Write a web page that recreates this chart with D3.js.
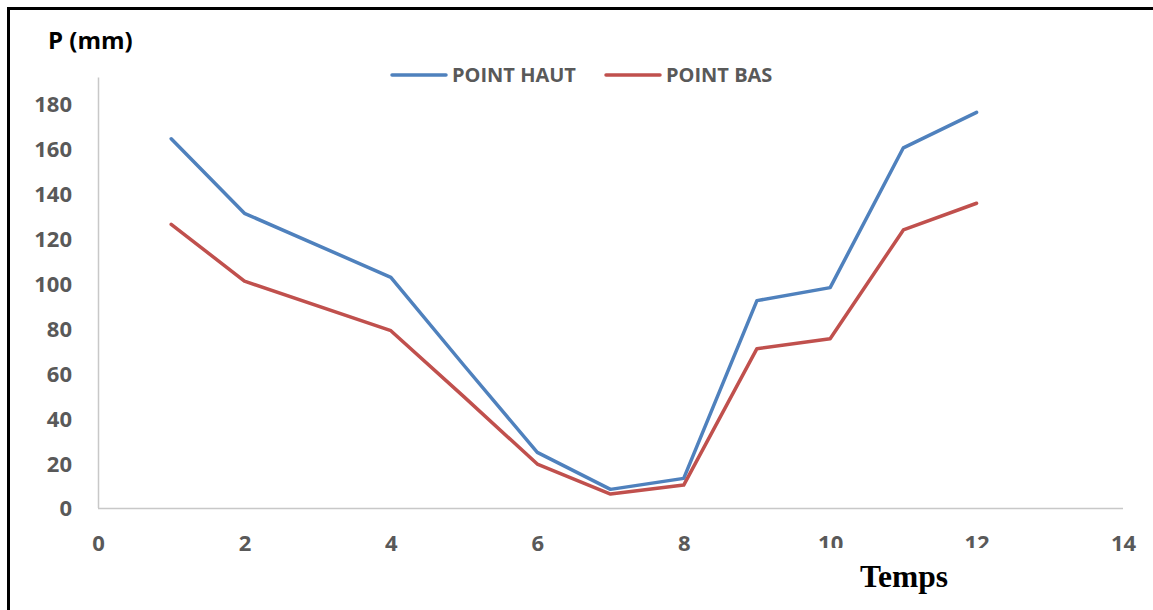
<!DOCTYPE html>
<html>
<head>
<meta charset="utf-8">
<script src="https://cdn.jsdelivr.net/npm/d3@7/dist/d3.min.js"></script>
<style>
  html, body { margin: 0; padding: 0; background: #fff; }
  svg { display: block; }
  .tick-label { font-family: "Open Sans", sans-serif; font-weight: 700; font-size: 22px; fill: #595959; }
  .legend-label { font-family: "Open Sans", sans-serif; font-weight: 700; font-size: 20px; fill: #595959; }
</style>
</head>
<body>
<svg id="chart" width="1153" height="610"></svg>
<script>
// Time steps and pressure readings (mm) for the two measuring points
const temps = [1, 2, 4, 5, 6, 7, 8, 9, 10, 11, 12];
const pointHaut = [164.5, 131.3, 102.8, 63.5, 24.8, 8.3, 13.2, 92.4, 98.2, 160.5, 176.3];
const pointBas  = [126.4, 101.1, 79.0, 49.5, 19.6, 6.2, 10.2, 71.0, 75.4, 123.9, 135.8];

const seriesNames = ["POINT HAUT", "POINT BAS"];
const seriesColors = ["#4f81bd", "#c0504d"];

const xTicks = [0, 2, 4, 6, 8, 10, 12, 14];
const yTicks = [0, 20, 40, 60, 80, 100, 120, 140, 160, 180];

const svg = d3.select("#chart");

const x = d3.scaleLinear().domain([0, 14]).range([98, 1123]);
const y = d3.scaleLinear().domain([0, 190]).range([508, 81.6]);

// Outer frame (left and top edges)
svg.append("path")
  .attr("d", "M8.5,610 L8.5,8.5 L1153,8.5")
  .attr("fill", "none")
  .attr("stroke", "#000")
  .attr("stroke-width", 3);

// Axes
const xAxis = d3.axisBottom(x).tickValues(xTicks).tickSize(0).tickPadding(27).tickFormat(d3.format("d"));
const yAxis = d3.axisLeft(y).tickValues(yTicks).tickSize(0).tickPadding(26).tickFormat(d3.format("d"));

const gx = svg.append("g").attr("transform", `translate(0,${y(0)})`).call(xAxis);
const gy = svg.append("g").attr("transform", `translate(${x(0)},0)`).call(yAxis);

gx.select(".domain").attr("stroke", "#c8c8c8").attr("stroke-width", 1.5).attr("d", `M${x(0)},0.5H${x(14)}`);
gy.select(".domain").attr("stroke", "#c8c8c8").attr("stroke-width", 1.5).attr("d", `M0.5,${y(0)}V${y(190) - 4}`);

gx.selectAll("text").attr("class", "tick-label").attr("dy", "0.71em");
gy.selectAll("text").attr("class", "tick-label").attr("dy", "0.36em");

// Lines
const line = d3.line().x((d, i) => x(temps[i])).y(d => y(d));
[pointHaut, pointBas].forEach((vals, k) => {
  svg.append("path")
    .datum(vals)
    .attr("d", line)
    .attr("fill", "none")
    .attr("stroke", seriesColors[k])
    .attr("stroke-width", 3.5)
    .attr("stroke-linejoin", "round")
    .attr("stroke-linecap", "round");
});

// Legend
const legendX = [392, 606];
seriesNames.forEach((name, k) => {
  const g = svg.append("g").attr("transform", `translate(${legendX[k]},75)`);
  g.append("line").attr("x1", 0).attr("x2", 54).attr("y1", 0).attr("y2", 0)
    .attr("stroke", seriesColors[k]).attr("stroke-width", 3.5).attr("stroke-linecap", "round");
  g.append("text").attr("class", "legend-label").attr("x", 60).attr("dy", "0.36em").text(name);
});

// Y axis title
svg.append("text")
  .attr("x", 48).attr("y", 48.5)
  .attr("font-family", "'Open Sans', sans-serif").attr("font-weight", 700).attr("font-size", 24)
  .attr("fill", "#000")
  .text("P (mm)");

// X axis title on its own white box
svg.append("rect").attr("x", 805).attr("y", 548).attr("width", 200).attr("height", 62).attr("fill", "#fff");
svg.append("text")
  .attr("x", 860).attr("y", 587)
  .attr("font-family", "'Liberation Serif', 'Times New Roman', serif").attr("font-weight", 700).attr("font-size", 31.5)
  .attr("fill", "#000")
  .text("Temps");
</script>
</body>
</html>
